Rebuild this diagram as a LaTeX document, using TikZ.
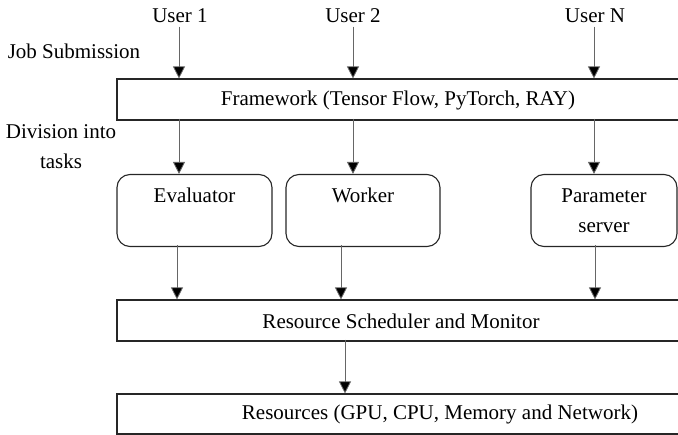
\documentclass[tikz,border=0pt]{standalone}
\usepackage{fontspec}
\setmainfont{Liberation Serif}
\usetikzlibrary{arrows.meta}

\begin{document}
\begin{tikzpicture}[x=1pt, y=-1pt,
	font=\fontsize{21}{30}\selectfont,
	bstyle/.style={draw=black!85, line width=1.1pt, inner sep=0pt,
	minimum width=566pt},
	tstyle/.style={draw=black!85, line width=1.1pt, rounded corners=13pt,
	inner sep=0pt, minimum height=72pt, align=center},
	arr/.style={draw=black!60, line width=0.8pt,
	-{Triangle[width=12pt,length=12pt,fill=black]}}
	]
	\useasboundingbox (0,0) rectangle (678,435);
	% users and side notes
	\node (u1) at (180,16) {User 1};
	\node (u2) at (353,16) {User 2};
	\node (uN) at (595,16) {User N};
	\node (jobsub) at (74,51) {Job Submission};
	\node[align=center] (div) at (61,147) {Division into\\tasks};
	
	% column positions of the arrows
	\coordinate (c1) at (179,0);
	\coordinate (c2) at (353,0);
	\coordinate (c3) at (594,0);
	\coordinate (c4) at (341,0);
	\coordinate (c5) at (595,0);
	\coordinate (c6) at (345,0);
	\coordinate (c7) at (177,0);
	
	% wide boxes run off the right edge
	\node[bstyle, minimum height=41pt] (fw) at (400,99.5) {};
	\node (fwtext) at (398,100) {Framework (Tensor Flow, PyTorch, RAY)};
	\node[tstyle, minimum width=155pt] (eval) at (194.5,210.5) {Evaluator\\~};
	\node[tstyle, minimum width=154pt] (work) at (363,210.5) {Worker\\~};
	\node[tstyle, minimum width=146pt] (param) at (604,210.5)
	{Parameter\\server};
	\node[bstyle, minimum height=41pt] (sched) at (400,320.5) {};
	\node (schedtext) at (401,321) {Resource Scheduler and Monitor};
	\node[bstyle, minimum height=40pt] (res) at (400,414) {};
	\node (restext) at (440,414) {Resources (GPU, CPU, Memory and Network)};
	
	\draw[arr] (u1.south -| c1) -- (fw.north -| c1);
	\draw[arr] (u2.south -| c2) -- (fw.north -| c2);
	\draw[arr] (uN.south -| c3) -- (fw.north -| c3);
	
	\draw[arr] ([yshift=2pt]fw.south -| c1) -- (eval.north -| c1);
	\draw[arr] ([yshift=2pt]fw.south -| c2) -- (work.north -| c2);
	\draw[arr] ([yshift=2pt]fw.south -| c3) -- (param.north -| c3);
	
	\draw[arr] ([yshift=2pt]eval.south -| c7) -- (sched.north -| c7);
	\draw[arr] ([yshift=2pt]work.south -| c4) -- (sched.north -| c4);
	\draw[arr] ([yshift=2pt]param.south -| c5) -- (sched.north -| c5);
	
	\draw[arr] ([yshift=2pt]sched.south -| c6) -- (res.north -| c6);
\end{tikzpicture}
\end{document}
